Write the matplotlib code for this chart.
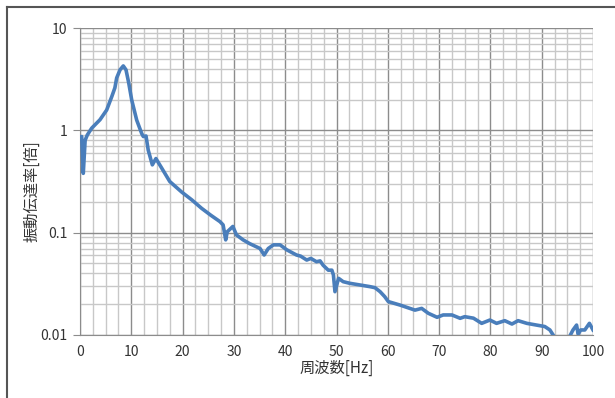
import matplotlib
matplotlib.use('Agg')
import numpy as np
import matplotlib.pyplot as plt
from matplotlib.ticker import FixedLocator, NullFormatter
from matplotlib.lines import Line2D

plt.rcParams['font.family'] = ['Noto Sans CJK JP', 'DejaVu Sans']

# --- DATA ---
freq = [0.0, 0.33, 0.64, 1.0, 1.42, 2.28, 3.9, 5.2, 6.2, 6.8, 7.15, 7.8, 8.44, 8.97,
        9.5, 10.08, 11.05, 12.03, 12.34, 12.87, 13.3, 14.1, 14.8, 15.9, 17.5, 19.8,
        21.8, 23.7, 25.5, 27.3, 27.9, 28.4, 28.7, 29.8, 30.5, 31.8, 33.1, 35.1,
        35.9, 36.7, 37.7, 39.0, 40.3, 42.2, 43.0, 44.2, 45.0, 46.1, 46.8, 47.4,
        48.4, 49.1, 49.4, 49.7, 50.4, 51.3, 52.6, 54.6, 56.5, 57.5, 58.5, 59.4,
        60.1, 62.4, 65.3, 66.6, 67.9, 69.6, 70.8, 72.5, 74.1, 75.0, 76.7, 78.3,
        79.9, 81.2, 82.8, 84.2, 85.4, 87.1, 89.0, 90.6, 91.6, 92.4, 94.0, 95.5,
        96.1, 96.8, 97.1, 97.6, 98.4, 99.3, 100.0]
ratio = [0.86, 0.87, 0.38, 0.80, 0.90, 1.05, 1.27, 1.58, 2.14, 2.6, 3.25, 3.9, 4.26, 3.9,
         2.9, 1.98, 1.26, 0.93, 0.87, 0.88, 0.64, 0.46, 0.53, 0.43, 0.316, 0.25,
         0.209, 0.173, 0.148, 0.128, 0.119, 0.085, 0.102, 0.115, 0.095, 0.085, 0.078, 0.070,
         0.0605, 0.070, 0.076, 0.076, 0.068, 0.0605, 0.059, 0.054, 0.056, 0.052, 0.053, 0.048,
         0.043, 0.043, 0.0386, 0.0265, 0.0358, 0.0332, 0.032, 0.0308, 0.0297, 0.029, 0.0265, 0.0237,
         0.0212, 0.0196, 0.0175, 0.0182, 0.0163, 0.0149, 0.0157, 0.0157, 0.01456, 0.0151, 0.0146, 0.0130,
         0.0140, 0.0130, 0.0138, 0.0128, 0.0138, 0.0130, 0.0125, 0.0121, 0.0112, 0.0097, 0.007, 0.0098,
         0.0112, 0.0125, 0.0102, 0.0112, 0.0112, 0.0130, 0.0112]

x_ticks = [0, 10, 20, 30, 40, 50, 60, 70, 80, 90, 100]
y_ticks = [0.01, 0.1, 1, 10]
y_ticklabels = ['0.01', '0.1', '1', '10']

fig = plt.figure(figsize=(6.15, 3.98), dpi=100)
ax = fig.add_axes([80 / 615, 1 - 335 / 398, 513 / 615, 307 / 398])

ax.set_yscale('log')
ax.set_xlim(0, 100)
ax.set_ylim(0.01, 10)

# grid
ax.xaxis.set_major_locator(FixedLocator(x_ticks))
ax.xaxis.set_minor_locator(FixedLocator(np.arange(0, 100.1, 2.5)))
minor_y = [m * 10.0 ** e for e in (-2, -1, 0) for m in range(2, 10)]
ax.yaxis.set_major_locator(FixedLocator(y_ticks))
ax.yaxis.set_minor_locator(FixedLocator(minor_y))
ax.yaxis.set_minor_formatter(NullFormatter())
ax.set_yticklabels(y_ticklabels)
ax.grid(which='minor', color='#c8c8c8', linewidth=1.0)
ax.grid(which='major', color='#8c8c8c', linewidth=1.0)
ax.set_axisbelow(True)

ax.plot(freq, ratio, color='#4a7ebb', linewidth=2.6, solid_joinstyle='round', zorder=3)

for s in ['top', 'right']:
    ax.spines[s].set_visible(False)
ax.spines['left'].set_color('#8c8c8c')
ax.spines['bottom'].set_color('#8c8c8c')
ax.tick_params(axis='y', which='major', length=5, color='#8c8c8c', labelsize=10,
               labelcolor='#333333', pad=4)
ax.tick_params(axis='y', which='minor', length=0)
ax.tick_params(axis='x', which='both', length=0, labelsize=10, labelcolor='#333333', pad=7)

ax.set_xlabel('周波数[Hz]', fontsize=11, color='#333333', labelpad=1)
ax.set_ylabel('振動伝達率[倍]', fontsize=11, color='#333333')
ax.yaxis.set_label_coords(-0.078, 0.47)

# outer frame (top and left edges visible)
fig.add_artist(Line2D([7 / 615, 1], [1 - 7 / 398, 1 - 7 / 398], transform=fig.transFigure,
                      color='#555555', linewidth=1.5))
fig.add_artist(Line2D([7 / 615, 7 / 615], [0, 1 - 7 / 398], transform=fig.transFigure,
                      color='#555555', linewidth=1.5))

fig.savefig('out.png', dpi=100)
